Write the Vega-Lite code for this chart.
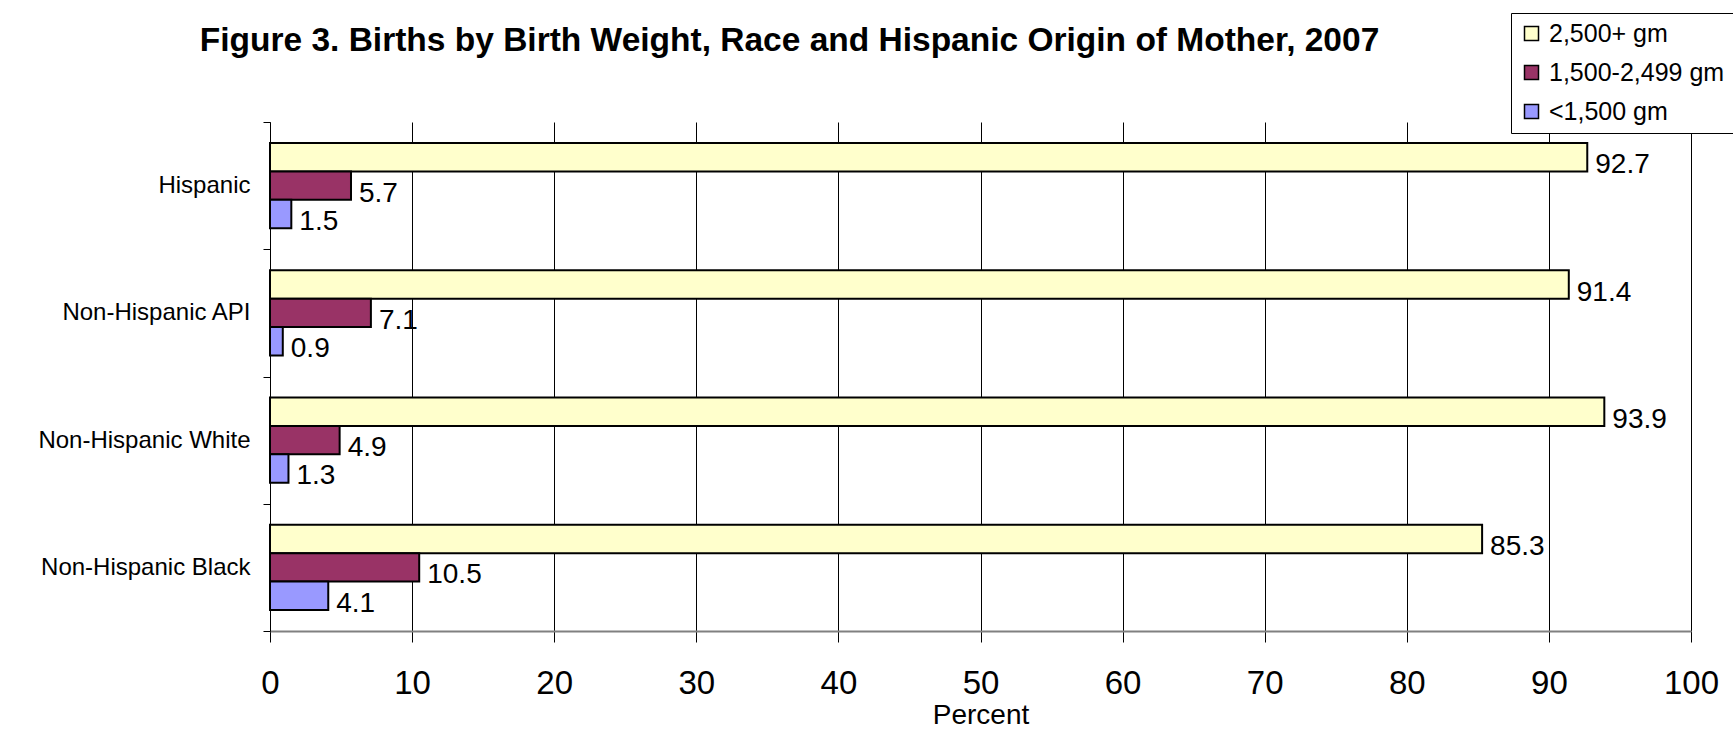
{
  "$schema": "https://vega.github.io/schema/vega-lite/v6.json",
  "width": 1421,
  "height": 509,
  "autosize": {"type": "none"},
  "padding": {"left": 270, "top": 122, "right": 42, "bottom": 112},
  "background": "white",
  "title": {
    "text": "Figure 3. Births by Birth Weight, Race and Hispanic Origin of Mother, 2007",
    "font": "Liberation Sans",
    "fontSize": 33.5,
    "fontWeight": "bold",
    "color": "black",
    "anchor": "middle",
    "frame": "group",
    "baseline": "alphabetic",
    "dx": -191,
    "offset": -72
  },
  "data": {
    "values": [
      {"group": "Hispanic", "weight": "2,500+ gm", "percent": 92.7},
      {"group": "Hispanic", "weight": "1,500-2,499 gm", "percent": 5.7},
      {"group": "Hispanic", "weight": "<1,500 gm", "percent": 1.5},
      {"group": "Non-Hispanic API", "weight": "2,500+ gm", "percent": 91.4},
      {"group": "Non-Hispanic API", "weight": "1,500-2,499 gm", "percent": 7.1},
      {"group": "Non-Hispanic API", "weight": "<1,500 gm", "percent": 0.9},
      {"group": "Non-Hispanic White", "weight": "2,500+ gm", "percent": 93.9},
      {"group": "Non-Hispanic White", "weight": "1,500-2,499 gm", "percent": 4.9},
      {"group": "Non-Hispanic White", "weight": "<1,500 gm", "percent": 1.3},
      {"group": "Non-Hispanic Black", "weight": "2,500+ gm", "percent": 85.3},
      {"group": "Non-Hispanic Black", "weight": "1,500-2,499 gm", "percent": 10.5},
      {"group": "Non-Hispanic Black", "weight": "<1,500 gm", "percent": 4.1}
    ]
  },
  "encoding": {
    "y": {
      "field": "group",
      "type": "nominal",
      "sort": ["Hispanic", "Non-Hispanic API", "Non-Hispanic White", "Non-Hispanic Black"],
      "scale": {"paddingInner": 0, "paddingOuter": 0},
      "title": null,
      "axis": {
        "domainColor": "black",
        "domainWidth": 1,
        "tickColor": "black",
        "tickSize": 7,
        "tickBand": "extent",
        "labelFont": "Liberation Sans",
        "labelFontSize": 24,
        "labelColor": "black",
        "labelPadding": 13,
        "labelLimit": 0,
        "grid": false
      }
    },
    "yOffset": {
      "field": "weight",
      "type": "nominal",
      "sort": ["2,500+ gm", "1,500-2,499 gm", "<1,500 gm"],
      "scale": {"paddingInner": 0, "paddingOuter": 0.745}
    },
    "x": {
      "field": "percent",
      "type": "quantitative",
      "scale": {"domain": [0, 100], "nice": false},
      "axis": {
        "values": [0, 10, 20, 30, 40, 50, 60, 70, 80, 90, 100],
        "title": "Percent",
        "titleFont": "Liberation Sans",
        "titleFontSize": 28,
        "titleFontWeight": "normal",
        "titleColor": "black",
        "titlePadding": 1,
        "labelFont": "Liberation Sans",
        "labelFontSize": 33,
        "labelColor": "black",
        "labelPadding": 25,
        "labelFlush": false,
        "labelOverlap": false,
        "tickSize": 11,
        "tickColor": "black",
        "domainColor": "#808080",
        "domainWidth": 2,
        "grid": true,
        "gridColor": "black",
        "gridWidth": 1,
        "gridOpacity": 1
      }
    }
  },
  "layer": [
    {
      "mark": {"type": "bar", "stroke": "black", "strokeWidth": 2},
      "encoding": {
        "color": {
          "field": "weight",
          "type": "nominal",
          "sort": ["2,500+ gm", "1,500-2,499 gm", "<1,500 gm"],
          "scale": {
            "domain": ["2,500+ gm", "1,500-2,499 gm", "<1,500 gm"],
            "range": ["#FFFFCC", "#993366", "#9999FF"]
          },
          "legend": {
            "title": null,
            "orient": "none",
            "legendX": 1241,
            "legendY": -109,
            "padding": 8,
            "strokeColor": "black",
            "fillColor": "white",
            "symbolType": "square",
            "symbolSize": 196,
            "symbolStrokeColor": "black",
            "symbolStrokeWidth": 1.5,
            "symbolOpacity": 1,
            "labelFont": "Liberation Sans",
            "labelFontSize": 25,
            "labelColor": "black",
            "labelOffset": 5,
            "labelLimit": 0,
            "rowPadding": 13
          }
        }
      }
    },
    {
      "mark": {"type": "text", "align": "left", "baseline": "middle", "dx": 8, "dy": 8, "font": "Liberation Sans", "fontSize": 28, "color": "black"},
      "encoding": {
        "text": {"field": "percent", "type": "quantitative", "format": ".1f"}
      }
    }
  ],
  "config": {"view": {"stroke": null}}
}
